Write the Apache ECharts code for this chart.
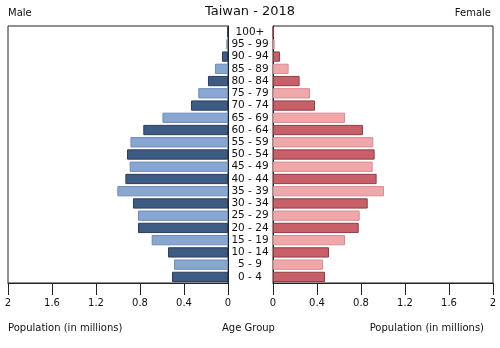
<!DOCTYPE html>
<html><head><meta charset="utf-8">
<script src="https://cdn.jsdelivr.net/npm/echarts@6/dist/echarts.min.js"></script>
<style>html,body{margin:0;padding:0;background:#fff}#c{width:500px;height:348px}</style>
</head><body><div id="c"></div>
<script>
var ageGroups = ['0 - 4','5 - 9','10 - 14','15 - 19','20 - 24','25 - 29','30 - 34','35 - 39','40 - 44','45 - 49','50 - 54','55 - 59','60 - 64','65 - 69','70 - 74','75 - 79','80 - 84','85 - 89','90 - 94','95 - 99','100+'];
var male = [0.509,0.491,0.545,0.694,0.818,0.818,0.864,1.006,0.933,0.894,0.918,0.887,0.770,0.596,0.336,0.270,0.182,0.118,0.055,0.015,0.004];
var female = [0.473,0.455,0.509,0.655,0.779,0.788,0.861,1.009,0.942,0.906,0.924,0.912,0.818,0.655,0.382,0.336,0.242,0.142,0.064,0.015,0.004];
var tickValues = [0,0.4,0.8,1.2,1.6,2];

var maleDark = '#3e5b83', maleLight = '#87a6d2', maleBorder = '#2a3d5a', maleLightBorder='#6d8cb8';
var femDark = '#c95f69', femLight = '#f0a7aa', femBorder = '#8e3f46', femLightBorder='#d88d91';
var font = 'DejaVu Sans';

function styled(vals, dark, light, bd, lbd){
  return vals.map(function(v,i){
    var even = i % 2 === 0;
    return {value:v, itemStyle:{color: even?dark:light, borderColor: even?bd:lbd, borderWidth:1}};
  });
}
var chart = echarts.init(document.getElementById('c'));
var xAxisCommon = {
  type:'value', min:0, max:2, interval:0.4,
  splitLine:{show:false},
  axisLine:{show:true, lineStyle:{color:'#222'}},
  axisTick:{show:true, inside:false, length:12, lineStyle:{color:'#222'}},
  axisLabel:{fontFamily:font, fontSize:10, color:'#111', margin:15,
    formatter:function(v){return String(Math.round(v*10)/10);}}
};
chart.setOption({
  animation:false,
  textStyle:{fontFamily:font},
  grid:[
    {left:8, width:220, top:26, height:257, show:true, borderColor:'#222', borderWidth:1},
    {left:273, width:220, top:26, height:257, show:true, borderColor:'#222', borderWidth:1}
  ],
  xAxis:[
    Object.assign({gridIndex:0, inverse:true}, xAxisCommon),
    Object.assign({gridIndex:1}, xAxisCommon)
  ],
  yAxis:[
    {type:'category', gridIndex:0, data:ageGroups, position:'right',
     axisLine:{show:true, lineStyle:{color:'#222'}}, axisTick:{show:false},
     axisLabel:{show:true, align:'center', margin:22, fontFamily:font, fontSize:10.5, color:'#111', interval:0}},
    {type:'category', gridIndex:1, data:ageGroups, position:'left',
     axisLine:{show:true, lineStyle:{color:'#222'}}, axisTick:{show:false}, axisLabel:{show:false}}
  ],
  series:[
    {type:'bar', xAxisIndex:0, yAxisIndex:0, data:styled(male, maleDark, maleLight, maleBorder, maleLightBorder), barCategoryGap:'16%'},
    {type:'bar', xAxisIndex:1, yAxisIndex:1, data:styled(female, femDark, femLight, femBorder, femLightBorder), barCategoryGap:'16%'}
  ],
  graphic:[
    {type:'text', left:'center', top:5, style:{text:'Taiwan - 2018', font:'13px "DejaVu Sans"', fill:'#111'}},
    {type:'text', left:8, top:8, style:{text:'Male', font:'10px "DejaVu Sans"', fill:'#111'}},
    {type:'text', right:9, top:8, style:{text:'Female', font:'10px "DejaVu Sans"', fill:'#111'}},
    {type:'text', left:8, top:323, style:{text:'Population (in millions)', font:'10px "DejaVu Sans"', fill:'#111'}},
    {type:'text', left:222, top:323, style:{text:'Age Group', font:'10px "DejaVu Sans"', fill:'#111'}},
    {type:'text', right:16, top:323, style:{text:'Population (in millions)', font:'10px "DejaVu Sans"', fill:'#111'}}
  ]
});
</script></body></html>
